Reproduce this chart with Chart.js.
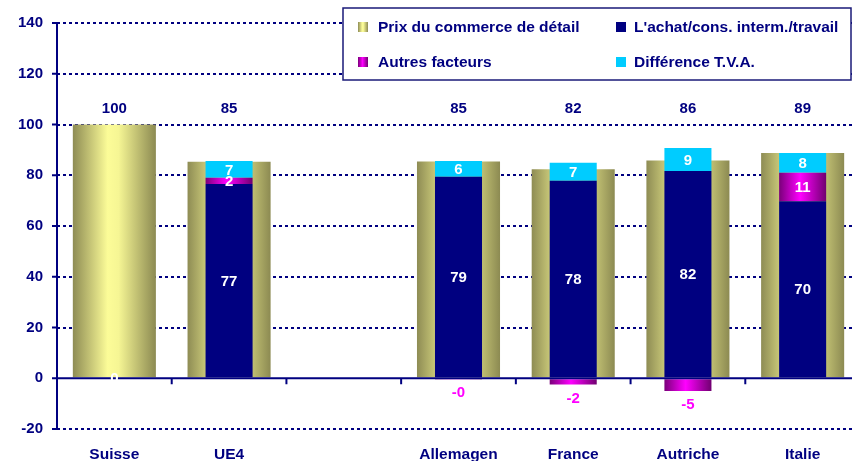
<!DOCTYPE html>
<html>
<head>
<meta charset="utf-8">
<script src="https://cdn.jsdelivr.net/npm/chart.js@4.4.1/dist/chart.umd.min.js"></script>
<style>
  html, body { margin: 0; padding: 0; background: #fff; overflow: hidden; }
  #wrap { width: 870px; height: 461px; }
</style>
</head>
<body>
<div id="wrap"><canvas id="graphique" width="870" height="461"></canvas></div>
<script>
// données
const pays = ['Suisse', 'UE4', '', 'Allemagen', 'France', 'Autriche', 'Italie'];
const prixDetail = [100, 85.3, null, 85.4, 82.4, 85.8, 88.8];
const achatTravail = [0, 76.6, null, 79.4, 77.8, 81.7, 69.8];
const autresFacteurs = [null, 2.4, null, -0.3, -2.49, -5.0, 11.2];
const diffTVA = [null, 6.6, null, 6.2, 7.1, 9.0, 7.8];
const nomsSeries = ['Prix du commerce de détail', "L'achat/cons. interm./travail", 'Autres facteurs', 'Différence T.V.A.'];
const yMin = -20, yMax = 140, yPas = 20;

const bleuNuit = '#000080';
const cyan = '#00CCFF';
const police = '"Liberation Sans", Arial, sans-serif';
const largeurOr = 0.724;
const largeurPile = 0.41;

function degradeOr(ctx, x0, x1) {
    const g = ctx.createLinearGradient(x0, 0, x1, 0);
    g.addColorStop(0, '#8E8C54');
    g.addColorStop(0.42, '#FCFC98');
    g.addColorStop(0.55, '#F6F694');
    g.addColorStop(1, '#8C8A52');
    return g;
}

function degradeMagenta(ctx, x0, x1) {
    const g = ctx.createLinearGradient(x0, 0, x1, 0);
    g.addColorStop(0, '#7A007A');
    g.addColorStop(0.45, '#FF00FF');
    g.addColorStop(1, '#700070');
    return g;
}

function couleurBarre(fabrique, axe, pct, repli) {
    return function(context) {
        const chart = context.chart;
        const scale = chart.scales[axe];
        if (!chart.chartArea || !scale || context.dataIndex === undefined) return repli;
        const cx = scale.getPixelForValue(context.dataIndex);
        const w = scale.width / pays.length * pct;
        return fabrique(chart.ctx, cx - w / 2, cx + w / 2);
    };
}

// axes, zéro, étiquettes et légende
const dessinsPlugin = {
    id: 'dessins',
    afterDatasetsDraw(chart) {
        const ctx = chart.ctx;
        const area = chart.chartArea;
        const x = chart.scales.x;
        const y = chart.scales.y;
        const y0 = y.getPixelForValue(0);
        ctx.save();
        ctx.strokeStyle = bleuNuit;
        ctx.lineWidth = 2;
        ctx.setLineDash([]);
        // axe vertical + graduations
        ctx.beginPath();
        ctx.moveTo(area.left, area.top);
        ctx.lineTo(area.left, area.bottom);
        for (let v = yMin; v <= yMax; v += yPas) {
            const py = y.getPixelForValue(v);
            ctx.moveTo(area.left - 5, py);
            ctx.lineTo(area.left, py);
        }
        // ligne du zéro + graduations des catégories
        ctx.moveTo(area.left, y0);
        ctx.lineTo(area.right, y0);
        const pasX = x.width / pays.length;
        for (let i = 1; i <= pays.length; i++) {
            const px = area.left + pasX * i;
            ctx.moveTo(px, y0);
            ctx.lineTo(px, y0 + 6);
        }
        ctx.stroke();

        // étiquettes des valeurs
        ctx.font = 'bold 15px ' + police;
        ctx.textAlign = 'center';
        ctx.textBaseline = 'middle';
        const yTotal = y.getPixelForValue(106);
        chart.data.datasets.forEach(function(ds, i) {
            const meta = chart.getDatasetMeta(i);
            meta.data.forEach(function(el, j) {
                const v = ds.data[j];
                if (v === null || v === undefined) return;
                const txt = v.toFixed(0);
                if (i === 0) {
                    ctx.fillStyle = bleuNuit;
                    ctx.fillText(txt, el.x, yTotal);
                } else if (i === 2 && v < 0) {
                    ctx.fillStyle = '#FF00FF';
                    ctx.fillText(txt, el.x, Math.max(el.y, el.base) + 14);
                } else {
                    ctx.fillStyle = '#FFFFFF';
                    ctx.fillText(txt, el.x, (el.y + el.base) / 2 + 1);
                }
            });
        });
        ctx.restore();
    },
    afterDraw(chart) {
        const ctx = chart.ctx;
        ctx.save();
        // cadre de la légende
        ctx.fillStyle = '#FFFFFF';
        ctx.fillRect(343, 8, 508, 72);
        ctx.strokeStyle = '#1A1A78';
        ctx.lineWidth = 1.5;
        ctx.strokeRect(343, 8, 508, 72);

        const places = [[358, 27], [616, 27], [358, 62], [616, 62]];
        ctx.font = 'bold 15.5px ' + police;
        ctx.textAlign = 'left';
        ctx.textBaseline = 'middle';
        nomsSeries.forEach(function(nom, i) {
            const p = places[i];
            if (i === 0) ctx.fillStyle = degradeOr(ctx, p[0], p[0] + 10);
            else if (i === 2) ctx.fillStyle = degradeMagenta(ctx, p[0], p[0] + 10);
            else ctx.fillStyle = i === 1 ? bleuNuit : cyan;
            ctx.fillRect(p[0], p[1] - 5, 10, 10);
            ctx.fillStyle = bleuNuit;
            ctx.fillText(nom, p[0] + (i % 2 === 0 ? 20 : 18), p[1] + 1);
        });
        ctx.restore();
    }
};

const ctx = document.getElementById('graphique').getContext('2d');
const graphique = new Chart(ctx, {
    type: 'bar',
    data: {
        labels: pays,
        datasets: [{
            label: nomsSeries[0],
            data: prixDetail,
            xAxisID: 'x2',
            backgroundColor: couleurBarre(degradeOr, 'x2', largeurOr, '#C8C67A'),
            barPercentage: largeurOr,
            categoryPercentage: 1,
            grouped: false,
            order: 2
        }, {
            label: nomsSeries[1],
            data: achatTravail,
            backgroundColor: bleuNuit,
            barPercentage: largeurPile,
            categoryPercentage: 1,
            grouped: false,
            order: 1
        }, {
            label: nomsSeries[2],
            data: autresFacteurs,
            backgroundColor: couleurBarre(degradeMagenta, 'x', largeurPile, '#CC00CC'),
            barPercentage: largeurPile,
            categoryPercentage: 1,
            grouped: false,
            order: 1
        }, {
            label: nomsSeries[3],
            data: diffTVA,
            backgroundColor: cyan,
            barPercentage: largeurPile,
            categoryPercentage: 1,
            grouped: false,
            order: 1
        }]
    },
    options: {
        responsive: false,
        animation: false,
        devicePixelRatio: 1,
        layout: { padding: { top: 20, right: 10, left: 0, bottom: 0 } },
        plugins: {
            legend: { display: false },
            tooltip: { enabled: false }
        },
        scales: {
            x: {
                stacked: true,
                offset: true,
                grid: { display: false, drawTicks: false },
                border: { display: false },
                ticks: {
                    color: bleuNuit,
                    font: { family: police, size: 15.5, weight: 'bold' },
                    padding: 16,
                    maxRotation: 0,
                    autoSkip: false
                },
                afterFit: function(s) { s.height = 32; }
            },
            x2: {
                display: false,
                stacked: true,
                offset: true,
                grid: { display: false }
            },
            y: {
                stacked: true,
                min: yMin,
                max: yMax,
                ticks: {
                    stepSize: yPas,
                    color: bleuNuit,
                    font: { family: police, size: 15, weight: 'bold' },
                    padding: 14
                },
                grid: {
                    color: function(c) { return c.tick && c.tick.value === 0 ? 'rgba(0,0,0,0)' : bleuNuit; },
                    lineWidth: 2,
                    drawTicks: false
                },
                border: { display: false, dash: [3, 3] },
                afterFit: function(s) { s.width = 57; }
            }
        }
    },
    plugins: [dessinsPlugin]
});
</script>
</body>
</html>
